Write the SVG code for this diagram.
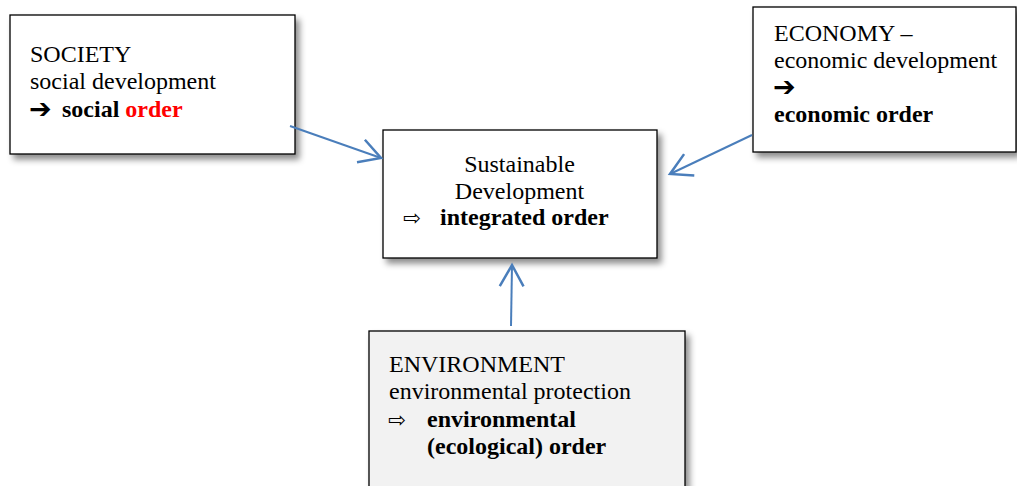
<svg xmlns="http://www.w3.org/2000/svg" width="1017" height="486" viewBox="0 0 1017 486">
<style>
.box{stroke:#000;stroke-width:1.3;}
.t{font-family:"Liberation Serif","Times New Roman",serif;font-size:24px;fill:#000;}
.b{font-weight:bold;}
.ar{font-family:"DejaVu Sans",sans-serif;font-size:27px;font-weight:bold;}
.wa{font-family:"DejaVu Sans",sans-serif;font-size:21px;}
.conn{stroke:#4a7ebb;stroke-width:2;fill:none;}
</style>
<defs>
<filter id="sh" x="-10%" y="-10%" width="130%" height="140%">
<feDropShadow dx="4" dy="5" stdDeviation="3" flood-color="#000" flood-opacity="0.45"/>
</filter>
<marker id="ah" markerUnits="userSpaceOnUse" markerWidth="30" markerHeight="30" viewBox="-20 -12 24 24" refX="0" refY="0" orient="auto">
<path d="M-17,-9.5 L0,0 L-17,9.5" fill="none" stroke="#4a7ebb" stroke-width="2"/>
</marker>
</defs>
<rect width="1017" height="486" fill="#fff"/>
<g id="society">
<rect class="box" x="10" y="15" width="285" height="139" fill="#fff" filter="url(#sh)"/>
<text class="t" x="30" y="62">SOCIETY</text>
<text class="t" x="30" y="89">social development</text>
<text class="ar" x="29" y="118">➔</text>
<text class="t b" x="62" y="117">social <tspan fill="#ff0000">order</tspan></text>
</g>
<g id="economy">
<rect class="box" x="753" y="7" width="263" height="145" fill="#fff" filter="url(#sh)"/>
<text class="t" x="774" y="41">ECONOMY –</text>
<text class="t" x="774" y="68">economic development</text>
<text class="ar" x="773" y="96">➔</text>
<text class="t b" x="774" y="122">economic order</text>
</g>
<g id="sustainable">
<rect class="box" x="383" y="130" width="274" height="128" fill="#fff" filter="url(#sh)"/>
<text class="t" x="519.5" y="172" text-anchor="middle">Sustainable</text>
<text class="t" x="519.5" y="199" text-anchor="middle">Development</text>
<text class="wa" x="403" y="225">⇨</text>
<text class="t b" x="440" y="225">integrated order</text>
</g>
<g id="environment">
<rect class="box" x="369" y="331" width="316" height="170" fill="#f2f2f2" filter="url(#sh)"/>
<text class="t" x="389" y="372">ENVIRONMENT</text>
<text class="t" x="389" y="399">environmental protection</text>
<text class="wa" x="388" y="427">⇨</text>
<text class="t b" x="427" y="427">environmental</text>
<text class="t b" x="427" y="454">(ecological) order</text>
</g>
<g id="connectors">
<line class="conn" x1="290" y1="126" x2="381" y2="158" marker-end="url(#ah)"/>
<line class="conn" x1="752" y1="135" x2="670" y2="174" marker-end="url(#ah)"/>
<line class="conn" x1="511" y1="326" x2="512" y2="265" marker-end="url(#ah)"/>
</g>
</svg>
